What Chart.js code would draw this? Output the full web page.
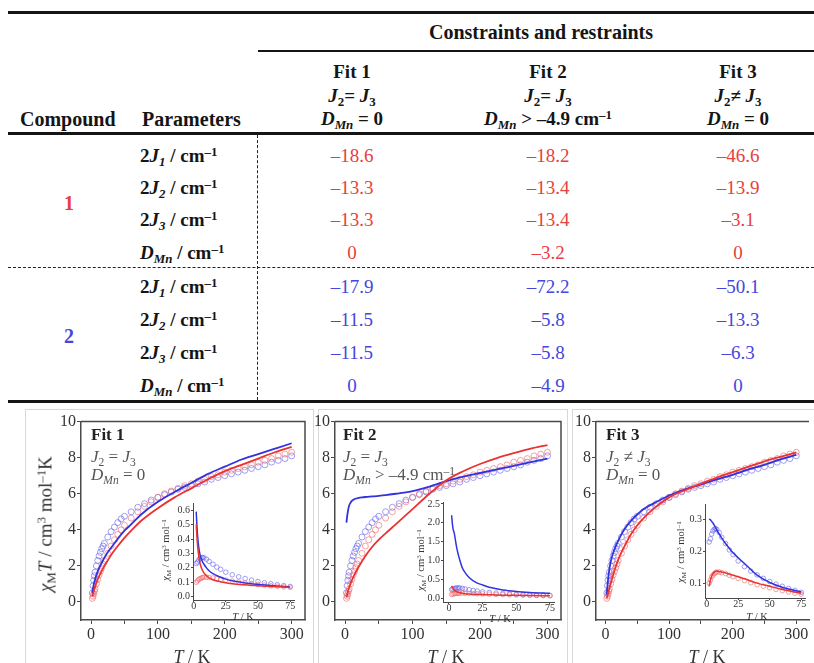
<!DOCTYPE html>
<html>
<head>
<meta charset="utf-8">
<title>Magnetic fits</title>
<script src="https://cdn.jsdelivr.net/npm/chart.js@4.4.1/dist/chart.umd.min.js"></script>
<style>
  body { margin: 0; background: #fff; font-family: 'Liberation Serif', 'Times New Roman', serif; color: #151515; }
  #page { position: relative; width: 814px; height: 663px; overflow: hidden; }
  .rule { position: absolute; background: #151515; }
  .dash-h { position: absolute; height: 0; border-top: 1.5px dashed #222; }
  .dash-v { position: absolute; width: 0; border-left: 1.5px dashed #222; }
  .frame { position: absolute; border: 1px solid #d8d8d8; }
  .txt { position: absolute; white-space: nowrap; line-height: 1; }
  .c { transform: translate(-50%, -50%); }
  .l { transform: translateY(-50%); }
  .rot { transform: translate(-50%, -50%) rotate(-90deg); }
  .b { font-weight: bold; }
  sub, sup { font-size: 0.68em; line-height: 0; position: relative; vertical-align: baseline; }
  sub { top: 0.32em; }
  sup { top: -0.45em; }
  canvas { position: absolute; }
</style>
</head>
<body>
<div id="page"></div>
<script>
// ---------- table values ----------
const fitNames = ['Fit 1', 'Fit 2', 'Fit 3'];
const fitJRule = ['<i>J</i><sub>2</sub>= <i>J</i><sub>3</sub>', '<i>J</i><sub>2</sub>= <i>J</i><sub>3</sub>', '<i>J</i><sub>2</sub>\u2260 <i>J</i><sub>3</sub>'];
const fitDRule = ['<i>D</i><sub><i>Mn</i></sub> = 0', '<i>D</i><sub><i>Mn</i></sub> &gt; \u20134.9 cm<sup>\u20131</sup>', '<i>D</i><sub><i>Mn</i></sub> = 0'];
const paramLabels = [
  '2<i>J</i><sub><i>1</i></sub> / cm<sup>\u20131</sup>',
  '2<i>J</i><sub><i>2</i></sub> / cm<sup>\u20131</sup>',
  '2<i>J</i><sub><i>3</i></sub> / cm<sup>\u20131</sup>',
  '<i>D</i><sub><i>Mn</i></sub> / cm<sup>\u20131</sup>'
];
// per fit: [2J1, 2J2, 2J3, DMn]
const comp1Values = [[-18.6, -13.3, -13.3, 0], [-18.2, -13.4, -13.4, -3.2], [-46.6, -13.9, -3.1, 0]];
const comp2Values = [[-17.9, -11.5, -11.5, 0], [-72.2, -5.8, -5.8, -4.9], [-50.1, -13.3, -6.3, 0]];

// ---------- chi_M T vs T (main panels) ----------
const tExp = [2, 3, 4, 5, 6, 8, 10, 12, 14, 16, 18, 20, 25, 30, 35, 40, 45, 50, 60, 70, 80, 90, 100, 110, 120, 130, 140, 150, 160, 170, 180, 190, 200, 210, 220, 230, 240, 250, 260, 270, 280, 290, 300];
const chiT1Exp = [0.20, 0.32, 0.45, 0.60, 0.72, 1.00, 1.25, 1.50, 1.70, 1.90, 2.10, 2.30, 2.70, 3.10, 3.45, 3.75, 4.00, 4.25, 4.65, 5.00, 5.30, 5.55, 5.80, 6.00, 6.15, 6.30, 6.45, 6.55, 6.70, 6.80, 6.95, 7.05, 7.20, 7.30, 7.40, 7.50, 7.60, 7.75, 7.85, 7.95, 8.10, 8.20, 8.30];
const chiT2Exp = [0.50, 0.90, 1.20, 1.45, 1.65, 2.00, 2.30, 2.55, 2.75, 2.95, 3.10, 3.25, 3.60, 3.90, 4.15, 4.40, 4.60, 4.75, 5.00, 5.25, 5.45, 5.65, 5.80, 5.95, 6.10, 6.25, 6.35, 6.45, 6.55, 6.65, 6.80, 6.90, 7.00, 7.10, 7.20, 7.30, 7.40, 7.50, 7.60, 7.75, 7.85, 7.95, 8.10];

const tFit = [2, 3, 4, 5, 6, 8, 10, 15, 20, 25, 30, 40, 50, 60, 75, 100, 125, 150, 175, 200, 225, 250, 275, 300];
const fit1Red  = [0.30, 0.45, 0.60, 0.72, 0.85, 1.05, 1.25, 1.65, 2.00, 2.30, 2.60, 3.10, 3.55, 3.95, 4.50, 5.20, 5.80, 6.30, 6.80, 7.25, 7.60, 7.95, 8.30, 8.60];
const fit1Blue = [0.50, 0.75, 0.95, 1.10, 1.25, 1.50, 1.70, 2.10, 2.45, 2.75, 3.00, 3.50, 3.95, 4.30, 4.85, 5.55, 6.10, 6.60, 7.10, 7.50, 7.90, 8.20, 8.50, 8.80];
const fit2Red  = [0.25, 0.40, 0.55, 0.70, 0.80, 1.00, 1.20, 1.60, 1.95, 2.25, 2.55, 3.05, 3.45, 3.80, 4.30, 5.15, 6.00, 6.75, 7.25, 7.65, 7.98, 8.25, 8.50, 8.70];
const fit2Blue = [4.40, 4.75, 5.00, 5.20, 5.35, 5.50, 5.60, 5.72, 5.77, 5.80, 5.82, 5.85, 5.88, 5.92, 6.00, 6.15, 6.40, 6.70, 6.95, 7.15, 7.35, 7.55, 7.75, 7.95];
const fit3Red  = [0.20, 0.35, 0.50, 0.60, 0.75, 1.00, 1.25, 1.85, 2.35, 2.75, 3.10, 3.75, 4.25, 4.65, 5.15, 5.80, 6.20, 6.55, 6.90, 7.20, 7.50, 7.80, 8.05, 8.30];
const fit3Blue = [0.40, 0.90, 1.25, 1.55, 1.80, 2.20, 2.50, 3.00, 3.40, 3.75, 4.05, 4.50, 4.85, 5.15, 5.45, 5.90, 6.25, 6.50, 6.80, 7.05, 7.35, 7.60, 7.90, 8.15];

const mainXTicks = [0, 50, 100, 150, 200, 250, 300];
const mainYTicks = [0, 2, 4, 6, 8, 10];

// ---------- chi_M vs T (insets) ----------
const tInsetExp = [2, 3, 4, 5, 6, 7, 8, 10, 12, 15, 18, 21, 25, 30, 35, 40, 45, 50, 55, 60, 65, 70, 75];
const chi1Exp = [0.100, 0.110, 0.120, 0.125, 0.130, 0.133, 0.135, 0.135, 0.133, 0.130, 0.125, 0.120, 0.115, 0.108, 0.101, 0.095, 0.090, 0.085, 0.080, 0.076, 0.072, 0.068, 0.065];
const chi2Exp = [0.230, 0.240, 0.255, 0.265, 0.270, 0.272, 0.270, 0.260, 0.245, 0.225, 0.205, 0.190, 0.170, 0.152, 0.138, 0.126, 0.115, 0.105, 0.097, 0.090, 0.083, 0.077, 0.071];

const tInsetFit = [2, 2.5, 3, 4, 5, 6, 7, 8, 10, 12, 15, 20, 25, 30, 40, 50, 60, 75];
const fit1ChiRed  = [0.50, 0.42, 0.36, 0.28, 0.23, 0.20, 0.18, 0.165, 0.145, 0.130, 0.118, 0.105, 0.097, 0.090, 0.082, 0.076, 0.071, 0.065];
const fit1ChiBlue = [0.59, 0.50, 0.43, 0.34, 0.29, 0.26, 0.24, 0.225, 0.200, 0.180, 0.160, 0.138, 0.122, 0.110, 0.095, 0.085, 0.077, 0.068];
const fit2ChiRed  = [0.33, 0.30, 0.27, 0.22, 0.19, 0.17, 0.155, 0.145, 0.130, 0.120, 0.110, 0.100, 0.095, 0.090, 0.082, 0.076, 0.071, 0.065];
const fit2ChiBlue = [2.20, 2.00, 1.85, 1.72, 1.50, 1.30, 1.15, 1.02, 0.80, 0.68, 0.55, 0.42, 0.35, 0.29, 0.22, 0.18, 0.155, 0.13];
const fit3ChiRed  = [0.090, 0.100, 0.110, 0.122, 0.130, 0.134, 0.137, 0.138, 0.137, 0.135, 0.132, 0.126, 0.120, 0.114, 0.100, 0.090, 0.080, 0.068];
const fit3ChiBlue = [0.300, 0.302, 0.300, 0.295, 0.290, 0.283, 0.276, 0.268, 0.255, 0.242, 0.225, 0.200, 0.180, 0.162, 0.125, 0.102, 0.087, 0.072];

const insetXTicks = [0, 25, 50, 75];
const inset1YTicks = [0, 0.1, 0.2, 0.3, 0.4, 0.5, 0.6];
const inset2YTicks = [0, 0.5, 1.0, 1.5, 2.0, 2.5];
const inset3YTicks = [0.1, 0.2, 0.3];

// ---------- colours ----------
const red = 'rgb(234, 50, 50)';
const blue = 'rgb(50, 50, 222)';
const redPale = 'rgba(238, 100, 100, 0.6)';
const bluePale = 'rgba(95, 95, 235, 0.6)';
const redText = '#e8403c';
const blueText = '#4646de';
const axisColor = '#4a4a4a';
const tickColor = '#333';

const page = document.getElementById('page');

function put(html, x, y, cls, style) {
  const d = document.createElement('div');
  d.className = 'txt ' + cls;
  d.innerHTML = html;
  d.style.left = x + 'px';
  d.style.top = y + 'px';
  if (style) Object.assign(d.style, style);
  page.appendChild(d);
  return d;
}

function block(cls, style) {
  const d = document.createElement('div');
  d.className = cls;
  Object.assign(d.style, style);
  page.appendChild(d);
}

function fmt(v) {
  return v === 0 ? '0' : '\u2013' + Math.abs(v).toFixed(1);
}

// ---------- table ----------
function drawTable() {
  block('rule', { left: '8px', top: '11px', width: '806px', height: '2.5px' });
  block('rule', { left: '258px', top: '50px', width: '556px', height: '2px' });
  block('rule', { left: '8px', top: '132px', width: '806px', height: '2.5px' });
  block('dash-h', { left: '8px', top: '267px', width: '806px' });
  block('rule', { left: '8px', top: '400px', width: '806px', height: '2.5px' });
  block('dash-v', { left: '257px', top: '135px', height: '265px' });

  put('Constraints and restraints', 541, 32, 'c b', { fontSize: '20px' });
  put('Compound', 20, 119, 'l b', { fontSize: '20px' });
  put('Parameters', 142, 119, 'l b', { fontSize: '20px' });

  const colX = [352, 548, 738];
  fitNames.forEach((name, i) => {
    put(name, colX[i], 71, 'c b', { fontSize: '19px' });
    put(fitJRule[i], colX[i], 95, 'c b', { fontSize: '19px' });
    put(fitDRule[i], colX[i], 118, 'c b', { fontSize: '19px' });
  });

  const rows1 = [155, 187, 219, 252];
  const rows2 = [286, 319, 352, 385];
  put('1', 69, 203, 'c b', { fontSize: '20px', color: redText });
  put('2', 69, 336, 'c b', { fontSize: '20px', color: blueText });
  paramLabels.forEach((lab, r) => {
    put(lab, 140, rows1[r], 'l b', { fontSize: '19px' });
    put(lab, 140, rows2[r], 'l b', { fontSize: '19px' });
    colX.forEach((x, i) => {
      put(fmt(comp1Values[i][r]), x, rows1[r], 'c', { fontSize: '19px', color: redText });
      put(fmt(comp2Values[i][r]), x, rows2[r], 'c', { fontSize: '19px', color: blueText });
    });
  });
}

// ---------- charts ----------
Chart.defaults.font.family = "'Liberation Serif', 'Times New Roman', serif";
Chart.defaults.color = tickColor;

const boxFrame = {
  id: 'boxFrame',
  afterDraw(chart, args, opts) {
    if (!opts.show) return;
    const a = chart.chartArea;
    const ctx = chart.ctx;
    ctx.save();
    ctx.strokeStyle = axisColor;
    ctx.lineWidth = 1.5;
    ctx.beginPath();
    ctx.moveTo(a.left, a.top);
    ctx.lineTo(a.right, a.top);
    if (opts.right) ctx.lineTo(a.right, a.bottom);
    ctx.stroke();
    ctx.restore();
  }
};

function pts(xs, ys) {
  return xs.map((x, i) => ({ x: x, y: ys[i] }));
}

function addCanvas(b) {
  const c = document.createElement('canvas');
  c.width = b.w;
  c.height = b.h;
  c.style.left = b.x + 'px';
  c.style.top = b.y + 'px';
  c.style.width = b.w + 'px';
  c.style.height = b.h + 'px';
  page.appendChild(c);
  return c;
}

function lineSet(xs, ys, color, width) {
  return {
    data: pts(xs, ys), showLine: true, borderColor: color, borderWidth: width,
    pointRadius: 0, cubicInterpolationMode: 'monotone', order: 1
  };
}

function pointSet(xs, ys, color, radius) {
  return {
    data: pts(xs, ys), showLine: false, pointStyle: 'circle', pointRadius: radius,
    pointBorderColor: color, pointBackgroundColor: 'rgba(0,0,0,0)', pointBorderWidth: 1, order: 2
  };
}

function axis(cfg) {
  return {
    type: 'linear', min: cfg.min, max: cfg.max,
    afterBuildTicks: s => { s.ticks = cfg.ticks.map(v => ({ value: v })); },
    afterFit: s => { if (cfg.width) s.width = cfg.width; if (cfg.height) s.height = cfg.height; },
    grid: { drawOnChartArea: false, drawTicks: true, tickLength: cfg.tickLength, color: axisColor, tickWidth: 1 },
    border: { display: true, color: axisColor, width: cfg.borderWidth },
    ticks: {
      autoSkip: false, maxRotation: 0, padding: cfg.padding, color: tickColor,
      font: { size: cfg.fontSize }, callback: cfg.label
    }
  };
}

function makeMain(b, redFit, blueFit, showRight) {
  new Chart(addCanvas(b), {
    type: 'scatter',
    data: {
      datasets: [
        lineSet(tFit, redFit, red, 1.8),
        lineSet(tFit, blueFit, blue, 1.8),
        pointSet(tExp, chiT1Exp, redPale, 3),
        pointSet(tExp, chiT2Exp, bluePale, 3)
      ]
    },
    options: {
      responsive: false,
      animation: false,
      events: [],
      layout: { padding: { top: 8, right: b.padRight, left: 0, bottom: 0 } },
      plugins: { legend: { display: false }, tooltip: { enabled: false }, boxFrame: { show: true, right: showRight } },
      scales: {
        x: axis({ min: -15, max: 320, ticks: mainXTicks, height: 26, tickLength: 4, padding: 1, fontSize: 16,
                  borderWidth: 1.5, label: v => (v % 100 === 0 ? String(v) : '') }),
        y: axis({ min: -1, max: 10, ticks: mainYTicks, width: 30, tickLength: 4, padding: 1, fontSize: 16,
                  borderWidth: 1.5, label: v => String(v) })
      }
    },
    plugins: [boxFrame]
  });
}

function makeInset(b, redFit, blueFit, yMin, yMax, yTicks, xMin) {
  new Chart(addCanvas(b), {
    type: 'scatter',
    data: {
      datasets: [
        lineSet(tInsetFit, redFit, red, 1.5),
        lineSet(tInsetFit, blueFit, blue, 1.5),
        pointSet(tInsetExp, chi1Exp, redPale, 2.3),
        pointSet(tInsetExp, chi2Exp, bluePale, 2.3)
      ]
    },
    options: {
      responsive: false,
      animation: false,
      events: [],
      layout: { padding: { top: 6, right: 6, left: 0, bottom: 0 } },
      plugins: { legend: { display: false }, tooltip: { enabled: false }, boxFrame: { show: false } },
      scales: {
        x: axis({ min: xMin, max: 78, ticks: insetXTicks, height: 14, tickLength: 2, padding: -2, fontSize: 10,
                  borderWidth: 1, label: v => String(v) }),
        y: axis({ min: yMin, max: yMax, ticks: yTicks, width: 23, tickLength: 2, padding: 1, fontSize: 10,
                  borderWidth: 1, label: v => v.toFixed(1) })
      }
    },
    plugins: [boxFrame]
  });
}

function drawCharts() {
  block('frame', { left: '25px', top: '409px', width: '287px', height: '260px' });
  block('frame', { left: '318px', top: '409px', width: '248px', height: '260px' });
  block('frame', { left: '572px', top: '409px', width: '250px', height: '260px' });

  makeMain({ x: 51, y: 411, w: 262, h: 235, padRight: 8 }, fit1Red, fit1Blue, true);
  makeMain({ x: 305, y: 411, w: 264, h: 235, padRight: 8 }, fit2Red, fit2Blue, true);
  makeMain({ x: 566, y: 411, w: 248, h: 235, padRight: 0 }, fit3Red, fit3Blue, false);

  makeInset({ x: 170, y: 496, w: 130, h: 118 }, fit1ChiRed, fit1ChiBlue, -0.023, 0.65, inset1YTicks, -0.5);
  makeInset({ x: 420, y: 495, w: 140, h: 121 }, fit2ChiRed, fit2ChiBlue, -0.1, 2.55, inset2YTicks, -4.4);
  makeInset({ x: 682, y: 497, w: 129, h: 115 }, fit3ChiRed, fit3ChiBlue, 0.053, 0.35, inset3YTicks, -1.3);

  // axis titles
  const yMain = '<i>\u03c7</i><sub>M</sub><i>T</i> / cm<sup>3</sup> mol<sup>\u20131</sup>K';
  put(yMain, 45, 524, 'rot', { fontSize: '19px', color: '#333' });
  [192, 446, 707].forEach(x => put('<i>T</i> / K', x, 657, 'c', { fontSize: '18px', color: '#333' }));

  const yInset = '<i>\u03c7</i><sub>M</sub> / cm<sup>3</sup> mol<sup>\u20131</sup>';
  put(yInset, 166, 550, 'rot', { fontSize: '10.5px', color: '#333' });
  put(yInset, 421, 560, 'rot', { fontSize: '10.5px', color: '#333' });
  put(yInset, 681, 552, 'rot', { fontSize: '10.5px', color: '#333' });
  put('<i>T</i> / K', 243, 617, 'c', { fontSize: '10.5px', color: '#333' });
  put('<i>T</i> / K', 500, 619, 'c', { fontSize: '10.5px', color: '#333' });
  put('<i>T</i> / K', 757, 617, 'c', { fontSize: '10.5px', color: '#333' });

  // panel annotations
  const panelX = [91, 343, 606];
  panelX.forEach((x, i) => {
    put(fitNames[i], x, 434, 'l b', { fontSize: '17px', color: '#222' });
    put(fitJRule[i].replace('= ', ' = ').replace('\u2260 ', ' \u2260 '), x, 456, 'l', { fontSize: '17px', color: '#555' });
    put(fitDRule[i], x, 474, 'l', { fontSize: '17px', color: '#555' });
  });
}

drawTable();
drawCharts();
</script>
</body>
</html>
